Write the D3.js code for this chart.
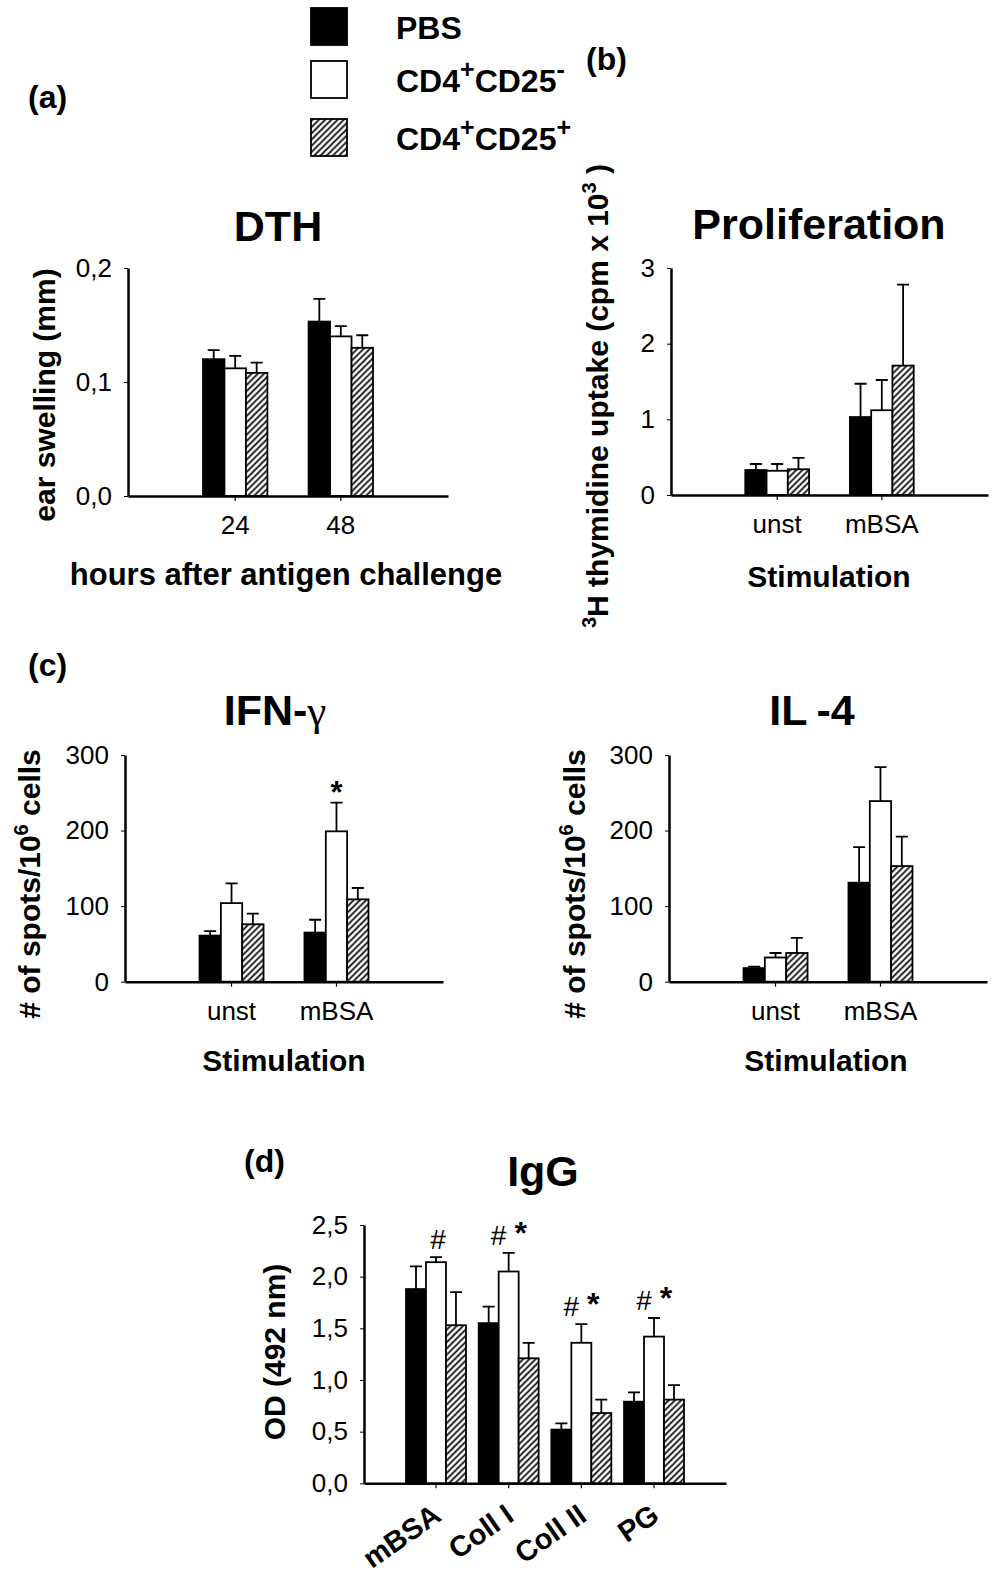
<!DOCTYPE html>
<html><head><meta charset="utf-8">
<script src="https://cdn.jsdelivr.net/npm/d3@7/dist/d3.min.js"></script>
<style>
body{margin:0;background:#fff;}
svg{display:block;}
</style></head><body>
<svg id="chart" width="1004" height="1578"></svg>
<script>
// ---------- DATA ----------
const seriesNames = ["PBS", "CD4+CD25-", "CD4+CD25+"];

// (a) DTH
const dthCategories = ["24", "48"];
const dthPBS = [0.120, 0.153];
const dthPBSErr = [0.008, 0.020];
const dthNeg = [0.112, 0.140];
const dthNegErr = [0.011, 0.009];
const dthPos = [0.108, 0.130];
const dthPosErr = [0.009, 0.011];
const dthTicks = [0, 0.1, 0.2];
const dthTickLabels = ["0,0", "0,1", "0,2"];

// (b) Proliferation
const stimCategories = ["unst", "mBSA"];
const proPBS = [0.33, 1.03];
const proPBSErr = [0.08, 0.44];
const proNeg = [0.32, 1.12];
const proNegErr = [0.09, 0.40];
const proPos = [0.34, 1.71];
const proPosErr = [0.15, 1.07];
const proTicks = [0, 1, 2, 3];
const proTickLabels = ["0", "1", "2", "3"];

// (c) IFN-gamma
const ifnPBS = [61, 65];
const ifnPBSErr = [6, 17];
const ifnNeg = [104, 199];
const ifnNegErr = [26, 38];
const ifnPos = [76, 109];
const ifnPosErr = [14, 15];
const ifnStar = [false, true];

// (c) IL-4
const il4PBS = [18, 131];
const il4PBSErr = [2, 47];
const il4Neg = [32, 239];
const il4NegErr = [6, 45];
const il4Pos = [38, 153];
const il4PosErr = [20, 39];

const spotTicks = [0, 100, 200, 300];
const spotTickLabels = ["0", "100", "200", "300"];

// (d) IgG
const iggCategories = ["mBSA", "Coll I", "Coll II", "PG"];
const iggPBS = [1.88, 1.55, 0.52, 0.79];
const iggPBSErr = [0.22, 0.16, 0.06, 0.09];
const iggNeg = [2.14, 2.05, 1.36, 1.42];
const iggNegErr = [0.05, 0.18, 0.18, 0.18];
const iggPos = [1.53, 1.21, 0.68, 0.81];
const iggPosErr = [0.32, 0.15, 0.13, 0.14];
const iggHash = [true, true, true, true];
const iggStar = [false, true, true, true];
const iggTicks = [0, 0.5, 1.0, 1.5, 2.0, 2.5];
const iggTickLabels = ["0,0", "0,5", "1,0", "1,5", "2,0", "2,5"];

// ---------- DRAWING ----------
const FONT = '"Liberation Sans", Arial, Helvetica, sans-serif';
const svg = d3.select("#chart").attr("font-family", FONT);
svg.append("rect").attr("width", 1004).attr("height", 1578).attr("fill", "#fff");

const defs = svg.append("defs");
const HS = 4.4;
const pat = defs.append("pattern").attr("id", "hatch")
  .attr("patternUnits", "userSpaceOnUse").attr("width", HS).attr("height", HS)
  .attr("patternTransform", "rotate(45)");
pat.append("rect").attr("width", HS).attr("height", HS).attr("fill", "#fff");
pat.append("line").attr("x1", HS / 2).attr("y1", -1).attr("x2", HS / 2).attr("y2", HS + 1)
  .attr("stroke", "#000").attr("stroke-width", 1.7);
const fills = ["#000", "#fff", "url(#hatch)"];

function drawPanel(p) {
  const g = svg.append("g");
  const x = d3.scaleBand().domain(p.categories).range([p.x0, p.x1])
    .paddingInner(p.pi).paddingOuter(p.po);
  const xs = d3.scaleBand().domain(d3.range(p.values.length)).range([0, x.bandwidth()]);
  const y = d3.scaleLinear().domain(p.yDomain).range([p.yBase, p.yTop]);

  p.values.forEach((vals, si) => {
    const errs = p.errors[si];
    const sg = g.append("g");
    sg.selectAll("rect").data(p.categories).join("rect")
      .attr("x", c => x(c) + xs(si))
      .attr("y", (c, i) => y(vals[i]))
      .attr("width", xs.bandwidth())
      .attr("height", (c, i) => y(0) - y(vals[i]))
      .attr("fill", fills[si]).attr("stroke", "#000").attr("stroke-width", 1.8);
    sg.selectAll("path").data(p.categories).join("path")
      .attr("d", (c, i) => {
        const cx = x(c) + xs(si) + xs.bandwidth() / 2;
        const y1 = y(vals[i]), y2 = y(vals[i] + errs[i]);
        return `M${cx},${y1}V${y2}M${cx - 6},${y2}H${cx + 6}`;
      })
      .attr("fill", "none").attr("stroke", "#000").attr("stroke-width", 1.8);
  });

  // y axis
  const ya = g.append("g").attr("transform", `translate(${p.x0},0)`)
    .call(d3.axisLeft(y).tickValues(p.yTicks).tickFormat((d, i) => p.yTickLabels[i])
      .tickSize(4).tickSizeOuter(0).tickPadding(12));
  ya.attr("font-size", 26).attr("font-family", FONT);
  ya.select(".domain").attr("stroke", "#000").attr("stroke-width", 2.5);
  ya.selectAll(".tick line").attr("stroke", "#000").attr("stroke-width", 1);
  ya.selectAll(".tick text").attr("fill", "#000");

  // x axis
  const xa = g.append("g").attr("transform", `translate(0,${p.yBase})`)
    .call(d3.axisBottom(x).tickSize(5).tickSizeOuter(0).tickPadding(14.5)
      .tickFormat(p.rotateLabels ? "" : (d => d)));
  xa.attr("font-size", 26).attr("font-family", FONT);
  xa.select(".domain").attr("stroke", "#000").attr("stroke-width", 2.5);
  xa.selectAll(".tick line").attr("stroke", "#000").attr("stroke-width", 1.2);
  xa.selectAll(".tick text").attr("fill", "#000");

  if (p.rotateLabels) {
    g.selectAll("text.rl").data(p.categories).join("text").attr("class", "rl")
      .attr("transform", c => `translate(${x(c) + x.bandwidth() / 2 + 7},${p.yBase + 36}) rotate(-35)`)
      .attr("text-anchor", "end").attr("font-size", 29).attr("font-weight", "bold")
      .text(c => c);
  }

  // title
  const t = g.append("text").attr("x", p.titleX).attr("y", p.titleY)
    .attr("text-anchor", "middle").attr("font-size", 43).attr("font-weight", "bold");
  if (p.titleParts) {
    p.titleParts.forEach(tp => {
      const s = t.append("tspan").text(tp.text);
      if (tp.serif) s.attr("font-family", '"Liberation Serif", "DejaVu Serif", serif').attr("font-weight", "normal");
      if (tp.dx) s.attr("dx", tp.dx);
    });
  } else t.text(p.title);

  // x title
  if (p.xTitle) {
    g.append("text").attr("x", p.xTitleX).attr("y", p.xTitleY)
      .attr("text-anchor", "middle").attr("font-size", p.xTitleSize || 30).attr("font-weight", "bold")
      .text(p.xTitle);
  }

  // y title (rotated)
  const yt = g.append("text")
    .attr("transform", `translate(${p.yTitleX},${p.yTitleY}) rotate(-90)`)
    .attr("text-anchor", "middle").attr("font-size", 30).attr("font-weight", "bold");
  p.yTitleParts.forEach(tp => {
    const s = yt.append("tspan").text(tp.text);
    if (tp.sup) s.attr("font-size", 20).attr("dy", -12);
    if (tp.after) s.attr("dy", 12);
  });

  return {x, xs, y, g};
}

function annotate(panel, cat, i, vals, errs, label, dx, baseOff, size, weight) {
  const cx = panel.x(cat) + panel.xs(1) + panel.xs.bandwidth() / 2;
  const ye = panel.y(vals[i] + errs[i]);
  panel.g.append("text").attr("x", cx + dx).attr("y", ye + baseOff)
    .attr("text-anchor", "middle").attr("font-size", size).attr("font-weight", weight)
    .text(label);
}

// (a) DTH
drawPanel({
  categories: dthCategories,
  values: [dthPBS, dthNeg, dthPos], errors: [dthPBSErr, dthNegErr, dthPosErr],
  x0: 128, x1: 448, pi: 0.39, po: 0.71,
  yDomain: [0, 0.2], yBase: 496, yTop: 268,
  yTicks: dthTicks, yTickLabels: dthTickLabels,
  title: "DTH", titleX: 278, titleY: 241,
  xTitle: "hours after antigen challenge", xTitleX: 286, xTitleY: 585, xTitleSize: 31,
  yTitleParts: [{text: "ear swelling (mm)"}], yTitleX: 55, yTitleY: 395
});

// (b) Proliferation
drawPanel({
  categories: stimCategories,
  values: [proPBS, proNeg, proPos], errors: [proPBSErr, proNegErr, proPosErr],
  x0: 671, x1: 988, pi: 0.39, po: 0.71,
  yDomain: [0, 3], yBase: 495, yTop: 268,
  yTicks: proTicks, yTickLabels: proTickLabels,
  title: "Proliferation", titleX: 819, titleY: 239,
  xTitle: "Stimulation", xTitleX: 829, xTitleY: 587,
  yTitleParts: [{text: "3", sup: true}, {text: "H thymidine uptake (cpm x 10", after: true},
                {text: "3", sup: true}, {text: " )", after: true}],
  yTitleX: 608, yTitleY: 396
});

// (c) IFN-gamma
const ifnPanel = drawPanel({
  categories: stimCategories,
  values: [ifnPBS, ifnNeg, ifnPos], errors: [ifnPBSErr, ifnNegErr, ifnPosErr],
  x0: 125, x1: 443, pi: 0.39, po: 0.71,
  yDomain: [0, 300], yBase: 981.7, yTop: 755,
  yTicks: spotTicks, yTickLabels: spotTickLabels,
  titleParts: [{text: "IFN-"}, {text: "γ", serif: true}], titleX: 275, titleY: 725,
  xTitle: "Stimulation", xTitleX: 284, xTitleY: 1071,
  yTitleParts: [{text: "# of spots/10"}, {text: "6", sup: true}, {text: " cells", after: true}],
  yTitleX: 40, yTitleY: 884
});
stimCategories.forEach((c, i) => {
  if (ifnStar[i]) annotate(ifnPanel, c, i, ifnNeg, ifnNegErr, "*", 0, 0, 31, "bold");
});

// (c) IL-4
drawPanel({
  categories: stimCategories,
  values: [il4PBS, il4Neg, il4Pos], errors: [il4PBSErr, il4NegErr, il4PosErr],
  x0: 669, x1: 987, pi: 0.39, po: 0.71,
  yDomain: [0, 300], yBase: 981.7, yTop: 755,
  yTicks: spotTicks, yTickLabels: spotTickLabels,
  titleParts: [{text: "IL"}, {text: "-4", dx: 9}], titleX: 812, titleY: 725,
  xTitle: "Stimulation", xTitleX: 826, xTitleY: 1071,
  yTitleParts: [{text: "# of spots/10"}, {text: "6", sup: true}, {text: " cells", after: true}],
  yTitleX: 585, yTitleY: 884
});

// (d) IgG
const iggPanel = drawPanel({
  categories: iggCategories,
  values: [iggPBS, iggNeg, iggPos], errors: [iggPBSErr, iggNegErr, iggPosErr],
  x0: 364, x1: 726, pi: 0.175, po: 0.578,
  yDomain: [0, 2.5], yBase: 1483.3, yTop: 1225,
  yTicks: iggTicks, yTickLabels: iggTickLabels,
  title: "IgG", titleX: 543, titleY: 1186,
  rotateLabels: true,
  yTitleParts: [{text: "OD (492 nm)"}], yTitleX: 285, yTitleY: 1352
});
iggCategories.forEach((c, i) => {
  const both = iggHash[i] && iggStar[i];
  if (iggHash[i]) annotate(iggPanel, c, i, iggNeg, iggNegErr, "#", both ? -10 : 2, -8, 28, "normal");
  if (iggStar[i]) annotate(iggPanel, c, i, iggNeg, iggNegErr, "*", 12, -9, 32, "bold");
});

// panel labels
[["(a)", 28, 108], ["(b)", 586, 70], ["(c)", 28, 676], ["(d)", 244, 1172]].forEach(([t, px, py]) => {
  svg.append("text").attr("x", px).attr("y", py).attr("font-size", 32)
    .attr("font-weight", "bold").text(t);
});

// legend
const legRowY = [8, 61, 119];
const legend = svg.append("g");
legend.selectAll("rect").data(seriesNames).join("rect")
  .attr("x", 311).attr("y", (d, i) => legRowY[i]).attr("width", 36).attr("height", 37)
  .attr("fill", (d, i) => fills[i]).attr("stroke", "#000").attr("stroke-width", 1.8);
seriesNames.forEach((name, i) => {
  const tx = legend.append("text").attr("x", 396).attr("y", legRowY[i] + 31)
    .attr("font-size", 32).attr("font-weight", "bold");
  const m = name.match(/^(CD4)([+-])(CD25)([+-])$/);
  if (!m) { tx.text(name); return; }
  tx.append("tspan").text(m[1]);
  tx.append("tspan").text(m[2]).attr("font-size", 25).attr("dy", -14);
  tx.append("tspan").text(m[3]).attr("dy", 14);
  tx.append("tspan").text(m[4]).attr("font-size", 25).attr("dy", -14);
});
</script>
</body></html>
